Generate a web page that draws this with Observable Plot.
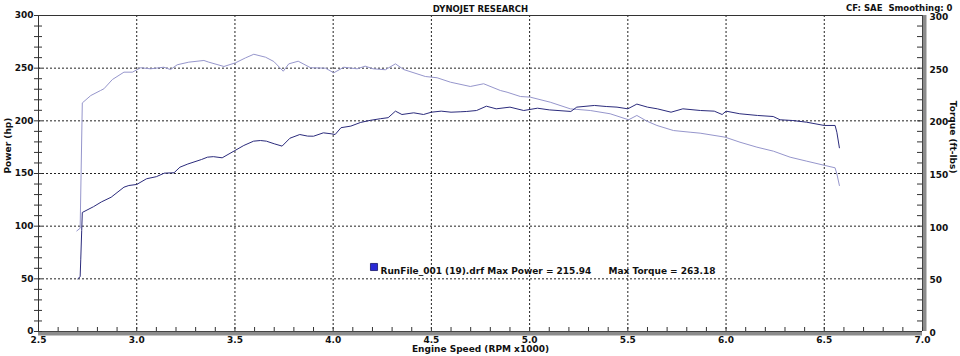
<!DOCTYPE html>
<html>
<head>
<meta charset="utf-8">
<script src="https://cdn.jsdelivr.net/npm/d3@7"></script>
<script src="https://cdn.jsdelivr.net/npm/@observablehq/plot@0.6"></script>
<style>
  html, body { margin: 0; padding: 0; background: #ffffff; }
</style>
</head>
<body>
<div id="chart"></div>
<script>
// ---- Data ----
const titleText = ["DYNOJET RESEARCH"];
const infoText = ["CF: SAE\u00a0 Smoothing: 0"];
const xLabel = ["Engine Speed (RPM x1000)"];
const yLeftLabel = ["Power (hp)"];
const yRightLabel = ["Torque (ft-lbs)"];
const runName = ["RunFile_001 (19).drf"];
const maxPowerValue = [215.94];
const maxTorqueValue = [263.18];

const xTicks = [2.5, 3.0, 3.5, 4.0, 4.5, 5.0, 5.5, 6.0, 6.5, 7.0];
const xGrid = [3.0, 3.5, 4.0, 4.5, 5.0, 5.5, 6.0, 6.5];
const yTicks = [0, 50, 100, 150, 200, 250, 300];
const yGrid = [50, 100, 150, 200, 250];
const xMinor = d3.range(25, 71).map(d => d / 10);
const yMinor = d3.range(0, 31).map(d => d * 10);

const powerRpm = [2.700, 2.712, 2.715, 2.720, 2.723, 2.78, 2.82, 2.87, 2.935, 2.96, 3.00, 3.05, 3.10, 3.14, 3.19, 3.22, 3.26, 3.33, 3.36, 3.39, 3.435, 3.50, 3.545, 3.595, 3.63, 3.66, 3.70, 3.74, 3.78, 3.83, 3.87, 3.90, 3.95, 3.99, 4.01, 4.04, 4.09, 4.14, 4.19, 4.24, 4.28, 4.317, 4.35, 4.41, 4.46, 4.50, 4.55, 4.60, 4.65, 4.68, 4.73, 4.78, 4.83, 4.90, 4.97, 5.04, 5.10, 5.21, 5.24, 5.33, 5.39, 5.445, 5.50, 5.546, 5.60, 5.65, 5.72, 5.78, 5.87, 5.94, 5.98, 6.00, 6.07, 6.16, 6.24, 6.275, 6.34, 6.41, 6.50, 6.555, 6.564, 6.577];
const powerHp = [50, 52, 68, 96, 113, 118.5, 123, 127.5, 137, 138.6, 139.6, 145, 147, 150.3, 150.7, 156, 159, 163.3, 165.5, 166, 164.9, 171.8, 176.6, 180.7, 181.3, 180.7, 178.2, 176, 183.5, 187, 185.5, 185.4, 188.6, 187.7, 187, 193.5, 195, 198.5, 200.5, 202, 203, 209.2, 206, 207.6, 206, 208.2, 209.2, 208.2, 208.6, 208.9, 209.8, 213.9, 211.4, 213, 209.8, 212, 210.4, 208.9, 213, 214.6, 213.6, 213, 211.4, 215.9, 213, 211.4, 208.2, 211.4, 209.8, 209.2, 206, 209.2, 206.7, 205.1, 204.1, 201, 200.3, 198.7, 195.6, 195.6, 189.2, 174.4];

const torqueRpm = [2.695, 2.712, 2.723, 2.766, 2.816, 2.833, 2.876, 2.935, 2.978, 3.02, 3.07, 3.138, 3.172, 3.206, 3.265, 3.342, 3.367, 3.444, 3.503, 3.554, 3.596, 3.656, 3.698, 3.746, 3.774, 3.822, 3.885, 3.961, 4.003, 4.054, 4.122, 4.163, 4.203, 4.266, 4.317, 4.359, 4.469, 4.529, 4.597, 4.698, 4.766, 4.851, 4.885, 4.953, 5.003, 5.105, 5.207, 5.309, 5.41, 5.504, 5.546, 5.597, 5.648, 5.732, 5.817, 5.868, 5.995, 6.071, 6.157, 6.241, 6.326, 6.411, 6.504, 6.555, 6.564, 6.577];
const torqueLbft = [95.5, 98, 217, 224, 228.8, 230.4, 239.2, 246.2, 246.2, 250.4, 249.4, 250.9, 248.7, 253.2, 255.7, 257.3, 255.7, 251.6, 255.1, 259.8, 263.2, 260.4, 256.3, 247.1, 254.1, 256.6, 250.4, 250, 245.6, 250.9, 249.4, 251.9, 249.4, 248.5, 254.1, 248.7, 242.1, 240.9, 236.7, 232.6, 235.2, 228.8, 227.2, 223.1, 222.5, 217.7, 211.4, 209.8, 206.7, 201, 205.1, 199.7, 195.6, 190.8, 189.2, 188.3, 184.5, 179.7, 175, 171.2, 165.5, 161.7, 157.6, 155.4, 149.7, 138.6];

// ---- Build tables ----
const power = powerRpm.map((r, i) => ({rpm: r, value: powerHp[i]}));
const torque = torqueRpm.map((r, i) => ({rpm: r, value: torqueLbft[i]}));

const W = 960, H = 356, mL = 38, mR = 38, mT = 15, mB = 25;
const plotW = W - mL - mR, plotH = H - mT - mB;
const powerColor = "#2b2b7c";
const torqueColor = "#9696cc";
const gridStyle = {stroke: "#222", strokeWidth: 1, strokeDasharray: "2,2"};

const chart = Plot.plot({
  width: W, height: H,
  marginLeft: mL, marginRight: mR, marginTop: mT, marginBottom: mB,
  style: {fontFamily: "'DejaVu Sans', Verdana, sans-serif", fontSize: "9px", fontWeight: "bold", background: "#ffffff", color: "#111"},
  x: {domain: [xTicks[0], xTicks[xTicks.length - 1]]},
  y: {domain: [yTicks[0], yTicks[yTicks.length - 1]]},
  marks: [
    // grid
    Plot.ruleX(xGrid, {x: d => d, ...gridStyle}),
    Plot.ruleY(yGrid, {y: d => d, ...gridStyle}),
    // frame: top and left thin lines
    Plot.ruleY([yTicks[yTicks.length - 1]], {y: d => d, stroke: "#333", strokeWidth: 1}),
    Plot.ruleX([xTicks[0]], {x: d => d, stroke: "#333", strokeWidth: 1}),
    // right and bottom thick shaded bars
    Plot.ruleX([xTicks[xTicks.length - 1]], {x: d => d, stroke: "#8c8c8c", strokeWidth: 4, dx: 2}),
    Plot.ruleX([xTicks[xTicks.length - 1]], {x: d => d, stroke: "#444", strokeWidth: 1}),
    Plot.ruleY([yTicks[0]], {y: d => d, stroke: "#8c8c8c", strokeWidth: 4, dy: 2}),
    Plot.ruleY([yTicks[0]], {y: d => d, stroke: "#444", strokeWidth: 1}),
    // minor ticks
    Plot.tickY(yMinor, {y: d => d, insetRight: plotW - 8, dx: -4, stroke: "#333"}),
    Plot.tickY(yMinor, {y: d => d, insetLeft: plotW - 5, stroke: "#333"}),
    Plot.tickX(xMinor, {x: d => d, insetTop: plotH - 4, stroke: "#333"}),
    // axes labels
    Plot.axisY(yTicks, {anchor: "left", tickSize: 0, tickPadding: 5, label: null}),
    Plot.text(yTicks, {y: d => d, text: d => String(d), frameAnchor: "right", dx: 7, dy: 1.5, textAnchor: "start"}),
    Plot.axisX(xTicks, {anchor: "bottom", tickSize: 0, tickPadding: 5, label: null, tickFormat: d => d.toFixed(1)}),
    // curves
    Plot.line(torque, {x: "rpm", y: "value", stroke: torqueColor, strokeWidth: 1}),
    Plot.line(power, {x: "rpm", y: "value", stroke: powerColor, strokeWidth: 1}),
    // titles
    Plot.text(titleText, {text: d => d, frameAnchor: "top", dy: -9.5, fontSize: 8.5}),
    Plot.text(infoText, {text: d => d, frameAnchor: "top-right", dx: 30, dy: -10.5, textAnchor: "end", fontSize: 8.5}),
    Plot.text(xLabel, {text: d => d, frameAnchor: "bottom", dy: 20}),
    Plot.text(yLeftLabel, {text: d => d, frameAnchor: "left", dx: -30, rotate: -90, letterSpacing: "1px"}),
    Plot.text(yRightLabel, {text: d => d, frameAnchor: "right", dx: 30, rotate: 90, letterSpacing: "0.6px"}),
    // legend
    Plot.dot([0], {frameAnchor: "top-left", dx: 335.5, dy: 251.5, symbol: "square", r: 4, fill: "#2a2ad6", stroke: "#15156a", strokeWidth: 0.8}),
    Plot.text(runName, {text: d => `${d} Max Power = ${maxPowerValue[0].toFixed(2)}`, frameAnchor: "top-left", dx: 342, dy: 252, textAnchor: "start"}),
    Plot.text(maxTorqueValue, {text: d => `Max Torque = ${d.toFixed(2)}`, frameAnchor: "top-left", dx: 570, dy: 252, textAnchor: "start"})
  ]
});
document.getElementById("chart").appendChild(chart);
</script>
</body>
</html>
